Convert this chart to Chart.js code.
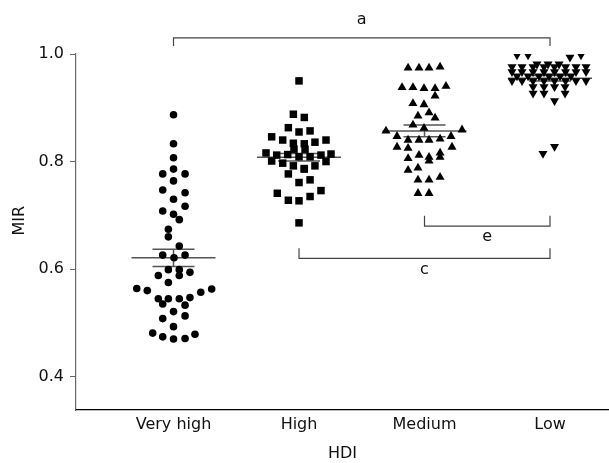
<!DOCTYPE html>
<html>
<head>
<meta charset="utf-8">
<script src="https://cdn.jsdelivr.net/npm/chart.js@4/dist/chart.umd.min.js"></script>
<style>
  html, body { margin: 0; padding: 0; background: #fff; }
  #wrap { width: 609px; height: 463px; }
</style>
</head>
<body>
<div id="wrap"><canvas id="chart" width="609" height="463"></canvas></div>
<script>
// categories and axis ticks
const categories = ['Very high', 'High', 'Medium', 'Low'];
const yTicks = [0.4, 0.6, 0.8, 1.0];

// each point: x is the jittered column position (1..4), y is the MIR value
const veryHighX = [1.00, 1.00, 1.00, 1.00, 0.914, 1.092, 1.00, 0.914, 1.092, 1.00, 1.092, 0.914, 1.00, 1.046, 0.959,
  0.959, 1.046, 0.914, 1.092, 1.004, 0.959, 1.046, 1.131, 0.879, 1.046, 0.959, 0.707, 0.791, 1.217, 1.304,
  0.879, 0.959, 1.046, 1.131, 0.914, 1.092, 1.00, 0.914, 1.092, 1.00, 0.834, 0.914, 1.00, 1.092, 1.171];
const veryHighY = [0.887, 0.833, 0.807, 0.786, 0.777, 0.777, 0.764, 0.747, 0.742, 0.730, 0.717, 0.708, 0.702, 0.692, 0.674,
  0.660, 0.643, 0.626, 0.626, 0.621, 0.599, 0.599, 0.594, 0.588, 0.588, 0.575, 0.564, 0.560, 0.557, 0.563,
  0.545, 0.545, 0.545, 0.547, 0.535, 0.533, 0.521, 0.508, 0.513, 0.493, 0.481, 0.474, 0.470, 0.471, 0.479];

const highX = [2.00, 1.955, 2.042, 1.915, 2.00, 2.088, 1.782, 1.870, 1.955, 2.042, 2.127, 2.215, 1.960, 2.048,
  1.737, 1.822, 1.910, 2.00, 2.088, 2.175, 2.255, 1.782, 1.870, 1.955, 2.042, 2.127, 2.215,
  2.042, 1.915, 2.00, 2.088, 1.827, 2.175, 1.915, 2.00, 2.088, 2.00];
const highY = [0.950, 0.888, 0.882, 0.863, 0.855, 0.857, 0.846, 0.840, 0.834, 0.833, 0.836, 0.840, 0.823, 0.823,
  0.816, 0.812, 0.813, 0.809, 0.809, 0.812, 0.814, 0.801, 0.797, 0.792, 0.787, 0.792, 0.800,
  0.786, 0.777, 0.761, 0.766, 0.741, 0.746, 0.728, 0.727, 0.735, 0.686];

const mediumX = [2.869, 2.956, 3.036, 3.124, 2.821, 2.908, 2.996, 3.084, 3.171, 3.084, 2.908, 2.996, 2.948, 3.036, 3.084,
  2.908, 2.996, 2.693, 3.299, 2.781, 3.211, 2.869, 2.956, 3.036, 3.124, 2.781, 2.869, 3.219, 3.124,
  2.956, 3.036, 3.124, 2.869, 3.036, 2.869, 2.948, 2.948, 3.036, 3.124, 2.948, 3.036];
const mediumY = [0.974, 0.974, 0.974, 0.976, 0.938, 0.938, 0.936, 0.936, 0.940, 0.922, 0.908, 0.906, 0.885, 0.891, 0.881,
  0.868, 0.862, 0.857, 0.859, 0.847, 0.847, 0.840, 0.840, 0.840, 0.842, 0.827, 0.825, 0.827, 0.816,
  0.812, 0.808, 0.808, 0.806, 0.801, 0.784, 0.788, 0.766, 0.766, 0.771, 0.741, 0.741];

const lowX = [3.737, 3.825, 4.247, 4.159, 3.896, 3.984, 4.072,
  3.697, 3.777, 3.865, 3.952, 4.036, 4.124, 4.207, 4.287,
  3.697, 3.777, 3.865, 3.952, 4.036, 4.124, 4.207, 4.287,
  3.737, 3.825, 3.912, 3.992, 4.080, 4.167,
  3.697, 3.777, 3.865, 3.952, 4.036, 4.124, 4.207, 4.287,
  3.865, 3.952, 4.036, 4.120, 3.865, 3.952, 4.120, 4.036, 4.036, 3.944];
const lowY = [0.998, 0.998, 0.998, 0.994, 0.981, 0.981, 0.981,
  0.976, 0.976, 0.976, 0.976, 0.976, 0.976, 0.976, 0.976,
  0.967, 0.967, 0.967, 0.967, 0.967, 0.967, 0.967, 0.967,
  0.959, 0.959, 0.959, 0.959, 0.959, 0.959,
  0.950, 0.950, 0.950, 0.950, 0.950, 0.950, 0.950, 0.950,
  0.939, 0.939, 0.939, 0.939, 0.927, 0.927, 0.927, 0.913, 0.828, 0.815];

// mean and SEM per group
const meanValues = [0.621, 0.808, 0.857, 0.955];
const semValues = [0.016, 0.007, 0.011, 0.005];

// significance brackets
const bracketFrom = [1, 3, 2];
const bracketTo = [4, 4, 4];
const bracketLevel = [1.030, 0.680, 0.620];
const bracketTip = [1.015, 0.699, 0.639];
const bracketText = ['a', 'e', 'c'];
const bracketTextLevel = [1.064, 0.660, 0.598];

const FONT = 'DejaVu Sans';

function toPoints(xs, ys) {
    return xs.map((x, i) => ({ x: x, y: ys[i] }));
}

const overlay = {
    id: 'overlay',
    beforeDatasetsDraw(chart) {
        const ctx = chart.ctx;
        const xs = chart.scales.x;
        const ys = chart.scales.y;
        ctx.save();
        ctx.strokeStyle = '#555';
        ctx.lineWidth = 1.5;
        meanValues.forEach((m, i) => {
            const cx = xs.getPixelForValue(i + 1);
            const ym = ys.getPixelForValue(m);
            const yTop = ys.getPixelForValue(m + semValues[i]);
            const yBot = ys.getPixelForValue(m - semValues[i]);
            ctx.beginPath();
            ctx.moveTo(cx - 42, ym); ctx.lineTo(cx + 42, ym);
            ctx.moveTo(cx - 21, yTop); ctx.lineTo(cx + 21, yTop);
            ctx.moveTo(cx - 21, yBot); ctx.lineTo(cx + 21, yBot);
            ctx.moveTo(cx, yTop); ctx.lineTo(cx, yBot);
            ctx.stroke();
        });
        ctx.restore();
    },
    afterDraw(chart) {
        const ctx = chart.ctx;
        const xs = chart.scales.x;
        const ys = chart.scales.y;
        ctx.save();
        ctx.strokeStyle = '#444';
        ctx.lineWidth = 1.2;
        ctx.fillStyle = '#111';
        ctx.font = '16px ' + FONT;
        ctx.textAlign = 'center';
        ctx.textBaseline = 'middle';
        bracketText.forEach((t, i) => {
            const x1 = xs.getPixelForValue(bracketFrom[i]);
            const x2 = xs.getPixelForValue(bracketTo[i]);
            const yl = ys.getPixelForValue(bracketLevel[i]);
            const yt = ys.getPixelForValue(bracketTip[i]);
            ctx.beginPath();
            ctx.moveTo(x1, yt); ctx.lineTo(x1, yl); ctx.lineTo(x2, yl); ctx.lineTo(x2, yt);
            ctx.stroke();
            ctx.fillText(t, (x1 + x2) / 2, ys.getPixelForValue(bracketTextLevel[i]));
        });
        // y axis title, placed like the original (a bit above the axis middle)
        ctx.save();
        ctx.translate(20, ys.getPixelForValue(0.69));
        ctx.rotate(-Math.PI / 2);
        ctx.fillText('MIR', 0, 0);
        ctx.restore();
        ctx.restore();
    }
};

const ctx = document.getElementById('chart').getContext('2d');
new Chart(ctx, {
    type: 'scatter',
    data: {
        datasets: [
            { data: toPoints(veryHighX, veryHighY), pointStyle: 'circle', pointRadius: 3.8 },
            { data: toPoints(highX, highY), pointStyle: 'rect', pointRadius: 5.3 },
            { data: toPoints(mediumX, mediumY), pointStyle: 'triangle', pointRadius: 5.2 },
            { data: toPoints(lowX, lowY), pointStyle: 'triangle', pointRotation: 180, pointRadius: 5.2 }
        ].map(d => Object.assign(d, {
            backgroundColor: '#000',
            borderColor: '#000',
            borderWidth: 0,
            pointHoverRadius: d.pointRadius
        }))
    },
    options: {
        responsive: false,
        animation: false,
        events: [],
        layout: { autoPadding: false, padding: { top: 54, right: 0, left: 0, bottom: 0 } },
        plugins: { legend: { display: false }, tooltip: { enabled: false } },
        scales: {
            x: {
                type: 'linear',
                min: 0.223,
                max: 4.47,
                afterBuildTicks: (scale) => { scale.ticks = categories.map((c, i) => ({ value: i + 1 })); },
                afterFit: (scale) => { scale.height = 53; },
                ticks: {
                    callback: (v) => categories[v - 1] || '',
                    color: '#111',
                    font: { family: FONT, size: 16 },
                    padding: 5,
                    maxRotation: 0,
                    autoSkip: false
                },
                grid: { display: false, drawTicks: false },
                border: { display: true, color: '#000', width: 1.2 },
                title: {
                    display: true,
                    text: 'HDI',
                    color: '#111',
                    font: { family: FONT, size: 16 },
                    padding: { top: 0, bottom: 0 }
                }
            },
            y: {
                min: 0.338,
                max: 1.0,
                afterBuildTicks: (scale) => { scale.ticks = yTicks.map(v => ({ value: v })); },
                afterFit: (scale) => { scale.width = 76; },
                ticks: {
                    callback: (v) => v.toFixed(1),
                    color: '#111',
                    font: { family: FONT, size: 16 },
                    padding: 6
                },
                grid: { drawOnChartArea: false, drawTicks: true, tickLength: 6, color: '#666' },
                border: { display: true, color: '#666', width: 1.2 },
                title: { display: false }
            }
        }
    },
    plugins: [overlay]
});
</script>
</body>
</html>
